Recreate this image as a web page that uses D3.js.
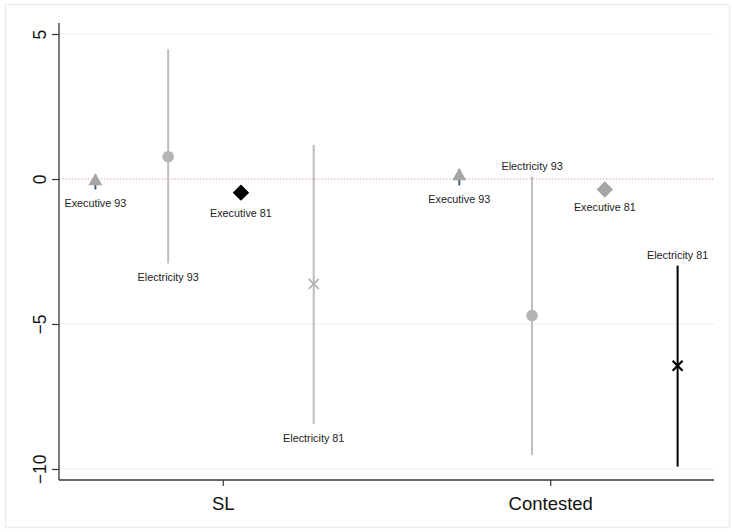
<!DOCTYPE html>
<html>
<head>
<meta charset="utf-8">
<script src="https://cdn.jsdelivr.net/npm/d3@7"></script>
<style>
  html, body { margin: 0; padding: 0; background: #fff; }
  svg { display: block; font-family: "Liberation Sans", Arial, sans-serif; }
</style>
</head>
<body>
<svg id="chart" width="732" height="532"></svg>
<script>
// Groups and their tick positions on the x axis
const groups = ["SL", "Contested"];
const groupTicks = [2.75, 7.25];

// One point per estimate: label, x slot, estimate and confidence bounds
const labels    = ["Executive 93", "Electricity 93", "Executive 81", "Electricity 81",
                   "Executive 93", "Electricity 93", "Executive 81", "Electricity 81"];
const slots     = [1, 2, 3, 4, 6, 7, 8, 9];
const estimates = [-0.08, 0.77, -0.47, -3.62, 0.10, -4.71, -0.36, -6.44];
const lower     = [-0.36, -2.91, -0.70, -8.45, -0.22, -9.52, -0.51, -9.92];
const upper     = [0.15, 4.47, -0.25, 1.17, 0.34, 0.08, -0.20, -2.99];
const labelSide = ["below", "below", "below", "below", "below", "above", "below", "above"];

// Marker shapes and colours
const shapes     = ["triangle", "circle", "diamond", "cross", "triangle", "circle", "diamond", "cross"];
const markColors = ["#a6a6a6", "#b4b4b4", "#000000", "#b4b4b4", "#a6a6a6", "#b4b4b4", "#a6a6a6", "#000000"];
const ciColors   = ["#3f5f80", "#bdbdbd", "#000000", "#bdbdbd", "#3f5f80", "#bdbdbd", "#a6a6a6", "#000000"];

const yTicks = [5, 0, -5, -10];

const svg = d3.select("#chart");

// Outer frame
svg.append("rect")
  .attr("x", 5.5).attr("y", 4.5).attr("width", 724).attr("height", 523)
  .attr("fill", "#fff").attr("stroke", "#e9eff1").attr("stroke-width", 1.5);

const plotLeft = 59, plotRight = 714, plotTop = 23, plotBottom = 480;

const x = d3.scaleLinear().domain([0.5, 9.5]).range([plotLeft, plotRight]);
const y = d3.scaleLinear().domain([-10.38, 5.38]).range([plotBottom, plotTop]);

// Horizontal grid lines
svg.append("g").selectAll("line")
  .data(yTicks.filter(d => d !== 0))
  .join("line")
  .attr("x1", plotLeft).attr("x2", plotRight)
  .attr("y1", d => y(d)).attr("y2", d => y(d))
  .attr("stroke", "#e6eef0").attr("stroke-width", 1.2);

// Reference line at zero
svg.append("line")
  .attr("x1", plotLeft).attr("x2", plotRight)
  .attr("y1", y(0)).attr("y2", y(0))
  .attr("stroke", "#e58a8a").attr("stroke-width", 1)
  .attr("stroke-dasharray", "1.2,2");

// Y axis
const yAxis = svg.append("g")
  .attr("transform", `translate(${plotLeft},0)`)
  .call(d3.axisLeft(y).tickValues(yTicks).tickSize(7).tickPadding(10).tickFormat(d3.format("d")));
yAxis.select(".domain").attr("d", `M0,${plotTop}V${plotBottom}`).attr("stroke", "#333").attr("stroke-width", 1.3);
yAxis.selectAll(".tick line").attr("stroke", "#333").attr("stroke-width", 1.2);
yAxis.selectAll(".tick text")
  .attr("font-size", 17.5).attr("fill", "#111")
  .attr("x", null).attr("dy", null)
  .attr("text-anchor", "middle")
  .attr("dominant-baseline", "central")
  .attr("transform", "translate(-19,0) rotate(-90)");

// X axis
const xAxis = svg.append("g")
  .attr("transform", `translate(0,${plotBottom})`)
  .call(d3.axisBottom(x).tickValues(groupTicks).tickSize(6).tickPadding(11)
    .tickFormat((d, i) => groups[i]));
xAxis.select(".domain").attr("d", `M${plotLeft},0H${plotRight}`).attr("stroke", "#333").attr("stroke-width", 1.3);
xAxis.selectAll(".tick line").attr("stroke", "#333").attr("stroke-width", 1.2);
xAxis.selectAll(".tick text").attr("font-size", 18.5).attr("fill", "#111");

const points = slots.map((s, i) => ({
  slot: s, est: estimates[i], lo: lower[i], hi: upper[i],
  label: labels[i], side: labelSide[i], shape: shapes[i],
  mc: markColors[i], cc: ciColors[i]
}));

// Confidence intervals
svg.append("g").selectAll("line")
  .data(points)
  .join("line")
  .attr("x1", d => x(d.slot)).attr("x2", d => x(d.slot))
  .attr("y1", d => y(d.lo)).attr("y2", d => y(d.hi))
  .attr("stroke", d => d.cc).attr("stroke-width", 2);

// Point estimates
const symbolFor = {
  triangle: d3.symbol().type(d3.symbolTriangle).size(85),
  circle: d3.symbol().type(d3.symbolCircle).size(105),
  diamond: d3.symbol().type(d3.symbolSquare).size(135)
};
const marks = svg.append("g");
points.forEach(d => {
  const cx = x(d.slot), cy = y(d.est);
  if (d.shape === "cross") {
    const r = 5;
    marks.append("path")
      .attr("transform", `translate(${cx},${cy})`)
      .attr("d", `M${-r},${-r}L${r},${r}M${-r},${r}L${r},${-r}`)
      .attr("stroke", d.mc).attr("stroke-width", d.mc === "#000000" ? 2.2 : 1.8)
      .attr("fill", "none");
  } else {
    marks.append("path")
      .attr("d", symbolFor[d.shape]())
      .attr("transform", d.shape === "diamond"
        ? `translate(${cx},${cy}) rotate(45)`
        : `translate(${cx},${cy})`)
      .attr("fill", d.mc);
  }
});

// Point labels at the ends of the intervals
svg.append("g").selectAll("text")
  .data(points)
  .join("text")
  .attr("x", d => x(d.slot))
  .attr("y", d => d.side === "below" ? y(d.lo) + 13.5 : y(d.hi) - 11)
  .attr("text-anchor", "middle")
  .attr("dominant-baseline", "central")
  .attr("font-size", 10.8)
  .attr("fill", "#222")
  .text(d => d.label);
</script>
</body>
</html>
